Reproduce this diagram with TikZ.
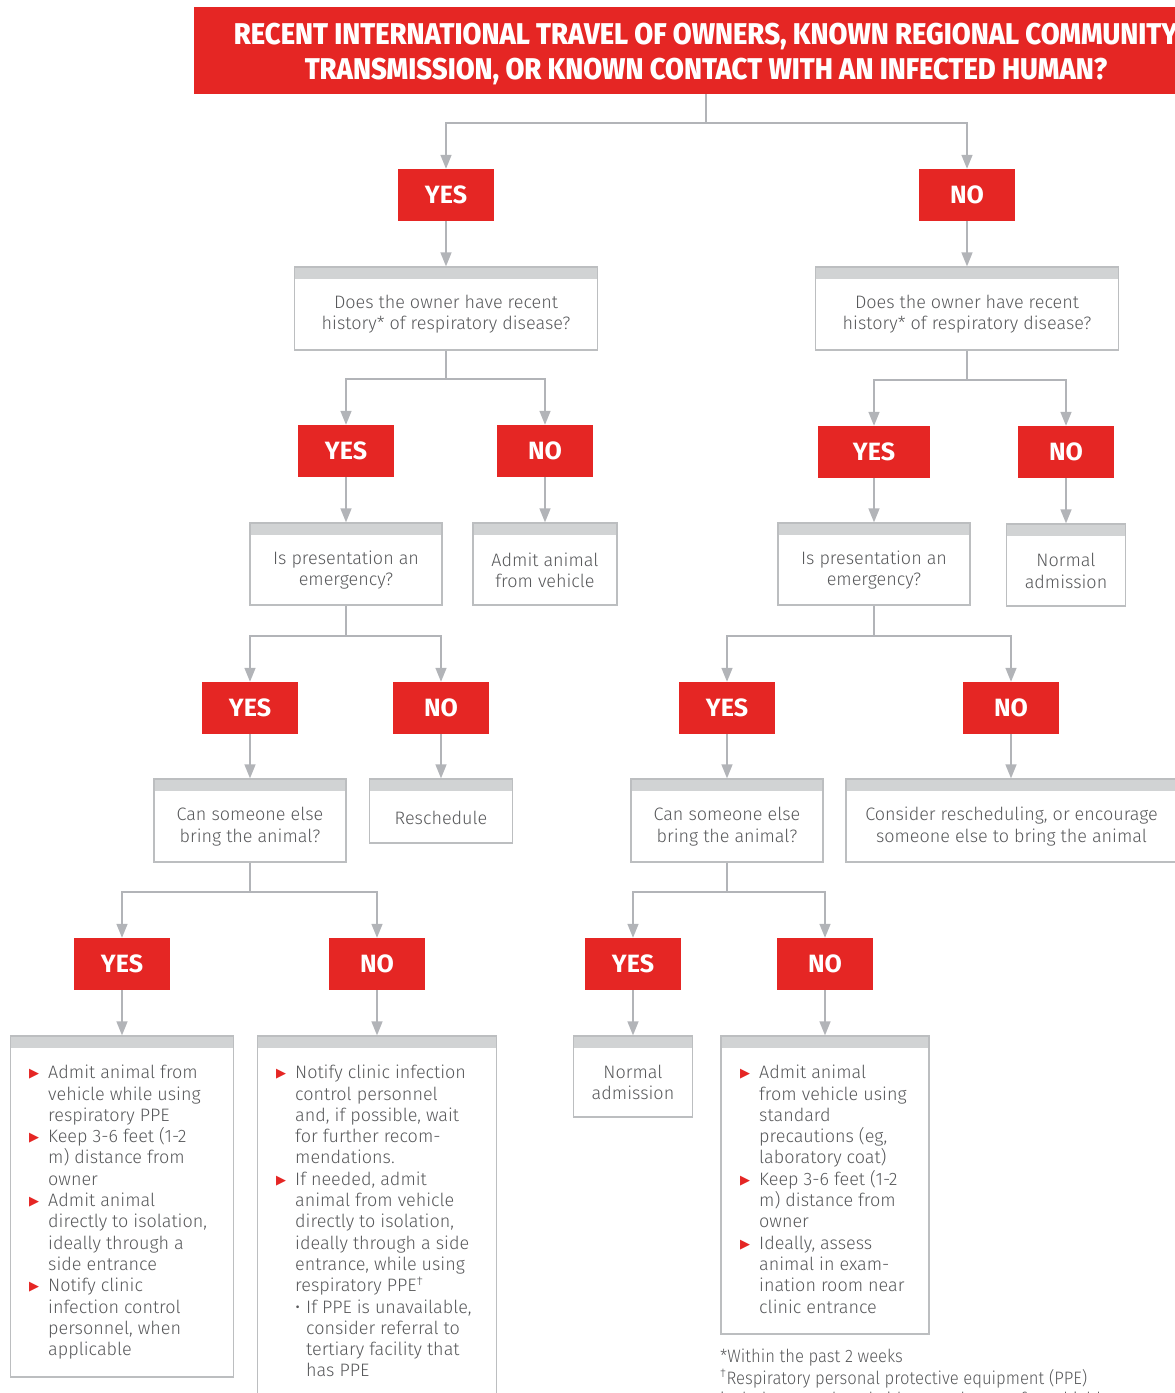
\documentclass[tikz,border=0pt]{standalone}
\usepackage{fontspec}
\setmainfont{Fira Sans}
\newfontfamily\lightf{Fira Sans Light}
\newfontfamily\hdrf{Fira Sans ExtraBold}
\newfontfamily\dejavu{DejaVu Sans}
\usetikzlibrary{arrows.meta}
\definecolor{cred}{RGB}{229,38,36}
\definecolor{cline}{RGB}{178,180,184}
\definecolor{cbar}{RGB}{209,211,212}
\definecolor{ctext}{RGB}{88,89,91}
\definecolor{cborder}{RGB}{188,190,192}
\newcommand{\tri}{\makebox[19pt][l]{\raisebox{1pt}{\dejavu\fontsize{13}{13}\selectfont\textcolor{cred}{▶}}}}
\newcommand{\ind}{\hspace*{19pt}}
\newcommand{\subb}{\makebox[11pt][l]{•}}
\newcommand{\subi}{\hspace*{11pt}}
\tikzset{
  yn/.style={fill=cred, text=white, font=\bfseries\fontsize{25}{25}\selectfont, minimum width=96pt, minimum height=52pt, inner sep=0pt},
  frame/.style={draw=cborder, line width=1.3pt, fill=white, inner sep=0pt,
    path picture={\fill[cbar] ([yshift=2pt]path picture bounding box.north west) rectangle ([yshift=-12pt]path picture bounding box.north east);}},
  conn/.style={draw=cline, line width=1.5pt, -{Triangle[width=11pt,length=14pt]}},
  plain/.style={draw=cline, line width=1.5pt},
  body/.style={text=ctext, font=\lightf\fontsize{18}{21.3}\selectfont, align=center, inner sep=0pt},
  blist/.style={body, align=left, anchor=north west},
}
\begin{document}
\begin{tikzpicture}[x=1pt,y=-1pt]
\useasboundingbox (0,0) rectangle (1175,1393);
% header
\node[fill=cred, minimum width=1024pt, minimum height=87pt, inner sep=0pt] (hdr) at (706,50.5) {};
\node[text=white, font=\hdrf\fontsize{30}{35}\selectfont, align=center, xscale=0.913, transform shape] (hdrt) at (706,54) {RECENT INTERNATIONAL TRAVEL OF OWNERS, KNOWN REGIONAL COMMUNITY\\TRANSMISSION, OR KNOWN CONTACT WITH AN INFECTED HUMAN?};
% level 1
\node[yn] (y1) at (446,195) {YES};
\node[yn] (n1) at (967,195) {NO};
\node[frame, minimum width=303pt, minimum height=83pt] (q1) at (446,308.5) {};
\node[body] (q1t) at ([yshift=-6pt]q1.center) {Does the owner have recent\\history* of respiratory disease?};
\node[frame, minimum width=303pt, minimum height=83pt] (q2) at (967,308.5) {};
\node[body] (q2t) at ([yshift=-6pt]q2.center) {Does the owner have recent\\history* of respiratory disease?};
% level 2
\node[yn] (y2) at (346,451) {YES};
\node[yn] (n2) at (545,451) {NO};
\node[yn, minimum width=112pt] (y2r) at (874,452) {YES};
\node[yn] (n2r) at (1066,452) {NO};
\node[frame, minimum width=192pt, minimum height=82pt] (e1) at (346,564) {};
\node[body] (e1t) at ([yshift=-6pt]e1.center) {Is presentation an\\emergency?};
\node[frame, minimum width=144pt, minimum height=82pt] (adm) at (545,564) {};
\node[body] (admt) at ([yshift=-6pt]adm.center) {Admit animal\\from vehicle};
\node[frame, minimum width=192pt, minimum height=82pt] (e2) at (874,564) {};
\node[body] (e2t) at ([yshift=-6pt]e2.center) {Is presentation an\\emergency?};
\node[frame, minimum width=119pt, minimum height=82pt] (nm1) at (1066,565) {};
\node[body] (nm1t) at ([yshift=-6pt]nm1.center) {Normal\\admission};
% level 3
\node[yn] (y3) at (250,708) {YES};
\node[yn] (n3) at (441,708) {NO};
\node[yn] (y3r) at (727,708) {YES};
\node[yn] (n3r) at (1011,708) {NO};
\node[frame, minimum width=192pt, minimum height=83pt] (c1) at (250,820.5) {};
\node[body] (c1t) at ([yshift=-6pt]c1.center) {Can someone else\\bring the animal?};
\node[frame, minimum width=143pt, minimum height=64pt] (rs) at (441,811) {};
\node[body] (rst) at ([yshift=-7pt]rs.center) {Reschedule};
\node[frame, minimum width=192pt, minimum height=83pt] (c2) at (727,820.5) {};
\node[body] (c2t) at ([yshift=-6pt]c2.center) {Can someone else\\bring the animal?};
\node[frame, minimum width=331pt, minimum height=83pt] (cs) at (1011.5,820.5) {};
\node[body] (cst) at ([yshift=-6pt]cs.center) {Consider rescheduling, or encourage\\someone else to bring the animal};
% level 4
\node[yn] (y4) at (122,964) {YES};
\node[yn] (n4) at (377,964) {NO};
\node[yn] (y4r) at (633,964) {YES};
\node[yn] (n4r) at (825,964) {NO};
\node[frame, minimum width=223pt, minimum height=341pt] (b1) at (122,1206.5) {};
\node[frame, minimum width=239pt, minimum height=364pt] (b2) at (377,1218) {};
\node[frame, minimum width=119pt, minimum height=81pt] (nm2) at (633,1076.5) {};
\node[body] (nm2t) at ([yshift=-6pt]nm2.center) {Normal\\admission};
\node[frame, minimum width=208pt, minimum height=298pt] (b3) at (825,1185) {};
\node[blist] (b1t) at (29,1065) {\tri Admit animal from\\
\ind vehicle while using\\
\ind respiratory PPE\\
\tri Keep 3-6 feet (1-2\\
\ind m) distance from\\
\ind owner\\
\tri Admit animal\\
\ind directly to isolation,\\
\ind ideally through a\\
\ind side entrance\\
\tri Notify clinic\\
\ind infection control\\
\ind personnel, when\\
\ind applicable};
\node[blist] (b2t) at (276,1065) {\tri Notify clinic infection\\
\ind control personnel\\
\ind and, if possible, wait\\
\ind for further recom-\\
\ind mendations.\\
\tri If needed, admit\\
\ind animal from vehicle\\
\ind directly to isolation,\\
\ind ideally through a side\\
\ind entrance, while using\\
\ind respiratory PPE\textsuperscript{†}\\
\ind\subb If PPE is unavailable,\\
\ind\subi consider referral to\\
\ind\subi tertiary facility that\\
\ind\subi has PPE};
\node[blist] (b3t) at (740,1065) {\tri Admit animal\\
\ind from vehicle using\\
\ind standard\\
\ind precautions (eg,\\
\ind laboratory coat)\\
\tri Keep 3-6 feet (1-2\\
\ind m) distance from\\
\ind owner\\
\tri Ideally, assess\\
\ind animal in exam-\\
\ind ination room near\\
\ind clinic entrance};
\node[blist, xscale=0.925, transform shape] (fn) at (720,1349) {*Within the past 2 weeks\\
\textsuperscript{†}Respiratory personal protective equipment (PPE)\\
includes a mask and either goggles or a face shield};
% connectors
\coordinate (j0) at (706,123);
\draw[plain] (hdr.south) -- (j0);
\draw[conn] (j0) -| (y1.north);
\draw[conn] (j0) -| (n1.north);
\draw[conn] (y1.south) -- (q1.north);
\draw[conn] (n1.south) -- (q2.north);
\coordinate (j1) at (446,379);
\draw[plain] (q1.south) -- (j1);
\draw[conn] (j1) -| (y2.north);
\draw[conn] (j1) -| (n2.north);
\coordinate (j1r) at (967,380);
\draw[plain] (q2.south) -- (j1r);
\draw[conn] (j1r) -| (y2r.north);
\draw[conn] (j1r) -| (n2r.north);
\draw[conn] (y2.south) -- (e1.north);
\draw[conn] (n2.south) -- (adm.north);
\draw[conn] (y2r.south) -- (e2.north);
\draw[conn] (n2r.south) -- (nm1.north);
\coordinate (j2) at (346,636);
\draw[plain] (e1.south) -- (j2);
\draw[conn] (j2) -| (y3.north);
\draw[conn] (j2) -| (n3.north);
\coordinate (j2r) at (874,636);
\draw[plain] (e2.south) -- (j2r);
\draw[conn] (j2r) -| (y3r.north);
\draw[conn] (j2r) -| (n3r.north);
\draw[conn] (y3.south) -- (c1.north);
\draw[conn] (n3.south) -- (rs.north);
\draw[conn] (y3r.south) -- (c2.north);
\draw[conn] (n3r.south) -- (n3r.south |- cs.north);
\coordinate (j3) at (250,892);
\draw[plain] (c1.south) -- (j3);
\draw[conn] (j3) -| (y4.north);
\draw[conn] (j3) -| (n4.north);
\coordinate (j3r) at (727,892);
\draw[plain] (c2.south) -- (j3r);
\draw[conn] (j3r) -| (y4r.north);
\draw[conn] (j3r) -| (n4r.north);
\draw[conn] (y4.south) -- (b1.north);
\draw[conn] (n4.south) -- (b2.north);
\draw[conn] (y4r.south) -- (nm2.north);
\draw[conn] (n4r.south) -- (b3.north);
\end{tikzpicture}
\end{document}
